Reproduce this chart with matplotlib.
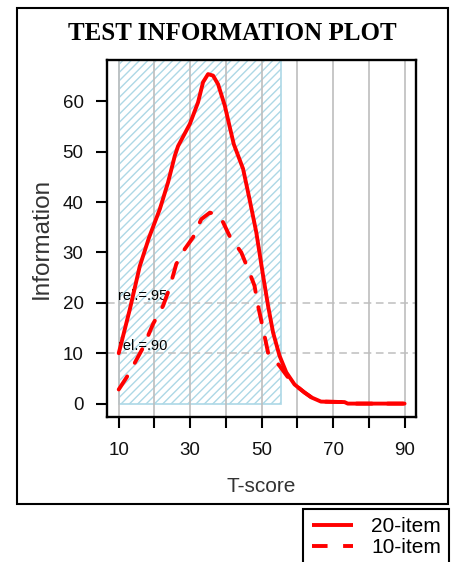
import matplotlib
matplotlib.use("Agg")
import matplotlib.pyplot as plt
from matplotlib.patches import Rectangle
from matplotlib.lines import Line2D

# 20-item test information curve
t20 = [10, 13.1, 15.9, 18.5, 21.5, 23.8, 25.7, 26.6, 29.9, 32.2, 33.6, 35.0,
       36.4, 37.8, 39.7, 41.2, 42.2, 44.8, 46.6, 48.5, 50.4, 51.8, 53.2, 55.0, 56.9,
       59.2, 62.0, 64.0, 66.6, 73.2, 74.1, 80, 90]
i20 = [10, 18.7, 27.3, 33.0, 38.6, 43.9, 49.2, 51.1, 55.5, 59.8, 63.8, 65.4,
       65.1, 63.4, 59.1, 54.5, 51.5, 46.6, 40.6, 34.0, 25.4, 19.4, 14.1, 9.5, 6.2,
       3.8, 2.2, 1.2, 0.4, 0.3, 0, 0, 0]

# 10-item test information curve
t10 = [10, 12.2, 14.5, 16.8, 19.6, 22.4, 23.8, 25.2, 26.1, 28.5, 30.8, 33.1, 35.5,
       37.3, 39.2, 41.0, 44.3, 46.6, 48.0, 49.0, 50.4, 51.8, 55.0, 57.8, 59.5,
       62.0, 64.0, 66.6, 73.2, 74.1, 80, 90]
i10 = [2.8, 5.2, 8.1, 11.1, 15.8, 19.4, 22.1, 25.4, 27.7, 30.7, 33.0, 36.6, 37.9,
       37.6, 36.0, 33.3, 30.0, 26.0, 23.4, 19.4, 14.8, 10.1, 7.5, 4.8, 3.6,
       2.2, 1.2, 0.4, 0.3, 0, 0, 0]

shade_x = [10, 55.3]
rel_levels = [10, 20]
rel_labels = ['rel.=.90', 'rel.=.95']
xticks = [10, 20, 30, 40, 50, 60, 70, 80, 90]
xtick_labels = ['10', '', '30', '', '50', '', '70', '', '90']
yticks = [0, 10, 20, 30, 40, 50, 60]

W, H = 456, 562
fig = plt.figure(figsize=(W / 100, H / 100), dpi=100)
ax = fig.add_axes([107.3 / W, 1 - 416.7 / H, (416 - 107.3) / W, (416.7 - 60) / H])

ax.set_xlim(6.8, 93.2)
ax.set_ylim(-2.6, 68.2)

# shaded range
ax.add_patch(Rectangle((shade_x[0], 0), shade_x[1] - shade_x[0], 100,
                       facecolor='none', edgecolor='#ADD8E6', hatch='////',
                       linewidth=1.2, zorder=1))

for x in xticks:
    ax.axvline(x, color='#BEBEBE', linewidth=1.2, zorder=1.5)
for lev, lab in zip(rel_levels, rel_labels):
    ax.axhline(lev, color='#BEBEBE', linewidth=1.1, linestyle=(0, (5, 3)), zorder=1.5)
    ax.text(9.8, lev + 0.6, lab, fontsize=10.5, ha='left', va='baseline', zorder=2,
            family='Liberation Sans')

line_kw = dict(color='red', linewidth=2.8, zorder=3, solid_capstyle='round',
               solid_joinstyle='round', dash_capstyle='round', dash_joinstyle='round')
ax.plot(t20, i20, **line_kw)
ax.plot(t10, i10, linestyle=(0, (4, 4)), **line_kw)

ax.set_xticks(xticks)
ax.set_xticklabels(xtick_labels)
ax.set_yticks(yticks)
ax.tick_params(direction='out', length=8, width=1.5, labelsize=13.5,
               labelcolor='#111111')
ax.tick_params(axis='x', pad=10)
ax.tick_params(axis='y', pad=9)
for lbl in ax.get_xticklabels() + ax.get_yticklabels():
    lbl.set_family('Liberation Sans')
for s in ax.spines.values():
    s.set_linewidth(1.7)

ax.set_xlabel('T-score', fontsize=15, color='#333333', family='Liberation Sans')
ax.set_ylabel('Information', fontsize=17.5, color='#333333', family='Liberation Sans')
ax.xaxis.set_label_coords(0.5, (416.7 - 487) / 356.7)
ax.xaxis.label.set_va('center')
ax.yaxis.set_label_coords((42 - 107.3) / 308.7, 0.5)
ax.yaxis.label.set_va('center')

fig.text(232 / W, 1 - 33 / H, 'TEST INFORMATION PLOT', ha='center', va='center',
         fontsize=18, fontweight='bold', family='Liberation Serif')

# outer frame
fig.add_artist(Rectangle((17.3 / W, 1 - 504 / H), (447.7 - 17.3) / W, (504 - 8.3) / H,
                         transform=fig.transFigure, facecolor='none',
                         edgecolor='black', linewidth=1.5))

handles = [Line2D([], [], color='red', linewidth=2.8, solid_capstyle='butt'),
           Line2D([], [], color='red', linewidth=2.8, linestyle=(0, (4, 4)),
                  dash_capstyle='butt')]
leg = fig.legend(handles, ['20-item', '10-item'], loc='upper left',
                 bbox_to_anchor=(303.3 / W, 1 - 509 / H), borderaxespad=0,
                 fancybox=False, edgecolor='black', framealpha=1,
                 prop={'family': 'Liberation Sans', 'size': 15},
                 handlelength=2.0, handletextpad=0.85, labelspacing=0.08,
                 borderpad=0.4)
leg.get_frame().set_linewidth(1.5)

fig.savefig('out.png', dpi=100)
